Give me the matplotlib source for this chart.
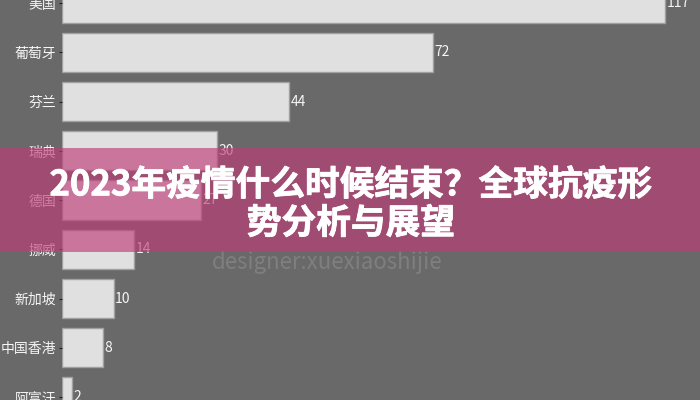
import matplotlib
matplotlib.use("Agg")
import matplotlib.pyplot as plt
import matplotlib.patheffects as pe
from matplotlib.patches import Rectangle

plt.rcParams['font.family'] = ['Noto Sans CJK SC', 'DejaVu Sans']

countries = ["美国", "葡萄牙", "芬兰", "瑞典", "德国", "挪威", "新加坡", "中国香港", "阿富汗"]
values = [117, 72, 44, 30, 27, 14, 10, 8, 2]

title = "2023年疫情什么时候结束？全球抗疫形\n势分析与展望"
watermark = "designer:xuexiaoshijie"

bg = "#696969"
fig = plt.figure(figsize=(7, 4), dpi=100, facecolor=bg)
ax = fig.add_axes([62 / 700, 0, 1 - 62 / 700, 1])
ax.set_facecolor(bg)

ypos = list(range(len(countries)))
ax.barh(ypos, values, height=0.8, color="#e0e0e0", edgecolor="#a0a0a0", linewidth=1)
for y, v in zip(ypos, values):
    ax.text(v + 0.3, y, str(v), va="center", ha="left", color="#f5f5f5", fontsize=10)

ax.set_yticks(ypos)
ax.set_yticklabels(countries, color="#f5f5f5", fontsize=10)
ax.tick_params(axis="y", length=2, color="#222222", pad=2)
ax.set_xticks([])
ax.set_xlim(0, 123.8)
ax.set_ylim(8.06, -0.061)
for s in ax.spines.values():
    s.set_visible(False)

# watermark
fig.text(327 / 700, 1 - 262 / 400, watermark, ha="center", va="center",
         color="#7f7f7f", fontsize=16)

# banner overlay
fig.patches.append(Rectangle((0, 1 - 252 / 400), 1, 104 / 400, transform=fig.transFigure,
                             facecolor=(190 / 255, 60 / 255, 120 / 255), alpha=0.65,
                             edgecolor="none", zorder=5))
fig.text(351 / 700, 1 - 204 / 400, title, ha="center", va="center", color="white",
         fontsize=25, fontweight="heavy", linespacing=1.12, zorder=6,
         path_effects=[pe.withStroke(linewidth=0.6, foreground="white")])

fig.savefig("out.png", dpi=100, facecolor=bg)
